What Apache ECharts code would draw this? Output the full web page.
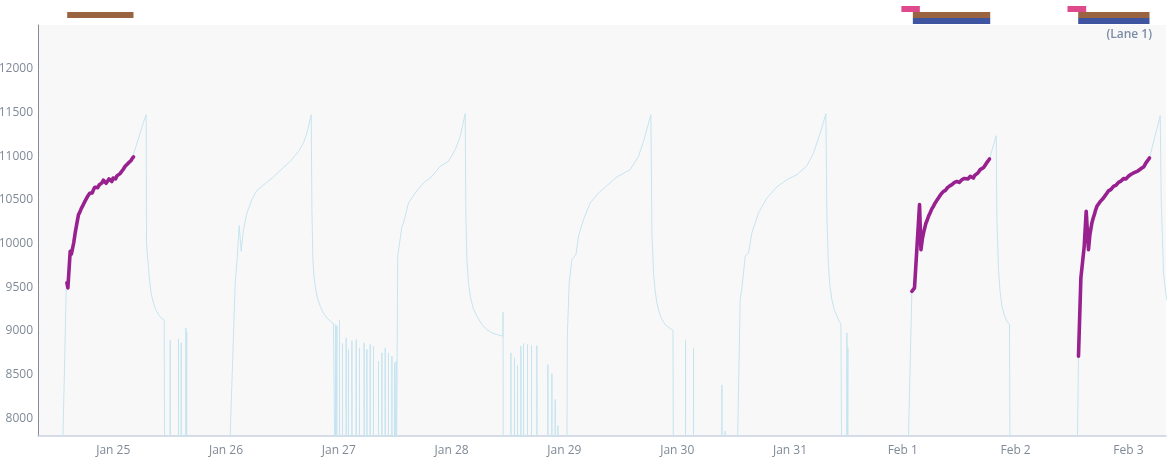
<!DOCTYPE html>
<html>
<head>
<meta charset="utf-8">
<script src="https://cdn.jsdelivr.net/npm/echarts@6/dist/echarts.min.js"></script>
<style>
html,body{margin:0;padding:0;background:#fff;}
#chart{width:1169px;height:460px;}
</style>
</head>
<body>
<div id="chart"></div>
<script>
// ---- data (time in hours relative to Jan 25 00:00) ----
const LOW = 7000; // readings below the visible range
const yTickValues = [8000, 8500, 9000, 9500, 10000, 10500, 11000, 11500, 12000];
const monthNames = ['Jan','Feb','Mar','Apr','May','Jun','Jul','Aug','Sep','Oct','Nov','Dec'];
const axisStartHour = -16;
const axisEndHour = 224;
const laneLabel = '(Lane 1)';
const laneNames = ['pink', 'brown', 'blue'];

// highlighted (purple) segments
const purple1 = [[-9.86,9551],[-9.64,9494],[-9.4,9700],[-9.15,9912],[-8.9,9880],[-8.66,9893],[-8.4,10010],[-8.09,10122],[-7.7,10240],[-7.38,10331],[-7.1,10360],[-6.8,10400],[-6.55,10425],[-6.32,10446],[-6.05,10480],[-5.8,10500],[-5.5,10535],[-5.26,10541],[-5.0,10575],[-4.7,10590],[-4.45,10580],[-4.19,10617],[-3.9,10645],[-3.6,10660],[-3.3,10640],[-3.0,10670],[-2.7,10690],[-2.4,10694],[-2.1,10725],[-1.8,10720],[-1.5,10690],[-1.2,10700],[-0.9,10740],[-0.64,10731],[-0.3,10710],[0.0,10750],[0.25,10760],[0.5,10740],[0.8,10775],[1.13,10789],[1.45,10800],[1.8,10820],[2.15,10850],[2.55,10884],[2.9,10900],[3.2,10920],[3.5,10935],[3.8,10950],[4.05,10975],[4.32,10991]];
const purple2 = [[169.93,9455],[170.21,9470],[170.49,9494],[171.56,10446],[171.86,9931],[172.15,10050],[172.41,10122],[172.9,10230],[173.2,10270],[173.47,10312],[173.8,10350],[174.2,10400],[174.5,10425],[174.89,10465],[175.3,10500],[175.8,10540],[176.2,10570],[176.66,10598],[177.1,10610],[177.5,10640],[178.0,10660],[178.45,10674],[179.0,10700],[179.5,10710],[180.0,10700],[180.57,10731],[181.0,10745],[181.4,10760],[181.9,10740],[182.34,10770],[182.7,10780],[183.0,10750],[183.3,10780],[183.6,10800],[184.0,10810],[184.47,10846],[184.8,10840],[185.2,10870],[185.5,10890],[185.8,10920],[186.1,10935],[186.45,10968]];
const purple3 = [[205.38,8712],[205.89,9608],[206.17,9590],[206.6,9969],[207.02,10369],[207.51,9931],[207.8,10100],[208.23,10236],[208.5,10290],[208.8,10340],[209.05,10390],[209.3,10427],[209.7,10440],[210.0,10480],[210.35,10500],[210.7,10522],[211.2,10560],[211.7,10600],[212.3,10620],[212.83,10655],[213.4,10670],[213.9,10700],[214.4,10715],[214.96,10743],[215.5,10740],[216.0,10770],[216.5,10790],[217.09,10808],[217.5,10800],[218.0,10830],[218.4,10850],[218.87,10865],[219.3,10880],[219.7,10920],[220.1,10940],[220.49,10979]];

// light blue trace pieces
const c1Rise = [[-16,LOW],[-10.8,LOW],[-10.70,7800],[-10.43,8408],[-10.0,9474]];
const c1Fall = [[5.74,11265],[6.4,11380],[7.02,11474],[7.09,10011],[7.25,9880],[7.51,9740],[7.65,9630],[7.87,9512],[8.15,9410],[8.57,9322],[9.0,9250],[9.64,9189],[10.2,9150],[10.85,9124],[10.96,LOW]];
const spikes1 = [[12.13,8895],[13.89,8911],[14.47,8865],[15.47,9037],[15.64,8990]];
const cycle2 = [[24.6,LOW],[24.89,7800],[25.96,9554],[26.32,9783],[26.81,10206],[27.23,9912],[27.72,10160],[28.45,10351],[29.51,10503],[30.57,10609],[32.34,10686],[34.11,10762],[35.89,10854],[37.66,10941],[39.43,11055],[40.49,11151],[41.21,11265],[42.13,11474],[42.28,10389],[42.49,9817],[42.7,9640],[42.98,9512],[43.4,9390],[44.04,9284],[44.7,9205],[45.47,9151],[46.2,9112],[46.87,9086],[47.2,9070],[47.23,LOW]];
const spikes2 = [[47.34,9074],[47.60,9060],[48.15,9124],[48.79,8857],[49.57,8922],[50.06,8789],[50.79,8891],[51.70,8903],[52.40,8808],[53.40,8865],[53.98,8789],[54.68,8846],[55.38,8827],[56.45,8655],[57.17,8751],[57.87,8808],[58.57,8751],[59.30,8712],[59.85,8636],[60.21,8655]];
const cycle3 = [[60.45,LOW],[60.53,9855],[60.75,9874],[61.43,10198],[61.77,10236],[62.49,10389],[62.83,10465],[64.26,10579],[66.02,10694],[67.81,10770],[69.57,10884],[71.34,10941],[72.77,11074],[73.83,11226],[74.89,11486],[75.04,10312],[75.26,9817],[75.55,9570],[75.96,9398],[76.6,9260],[77.38,9170],[78.4,9080],[79.51,9017],[80.8,8975],[82.0,8955],[82.91,8941],[82.95,9215],[83.0,LOW]];
const spikes3 = [[84.62,8751],[85.38,8694],[86.02,8606],[86.74,8827],[87.30,8857],[88.15,8846],[89.00,8834],[90.15,8834],[92.49,8617],[93.34,8511],[94.04,8217],[94.62,7920]];
const cycle4 = [[96.5,LOW],[96.62,8941],[97.02,9551],[97.60,9817],[98.45,9874],[99.00,10084],[100.06,10274],[101.49,10465],[103.26,10579],[105.04,10663],[107.17,10762],[110.0,10846],[111.77,10998],[112.83,11169],[114.40,11474],[114.62,10122],[114.96,9665],[115.3,9460],[115.68,9322],[116.2,9210],[116.74,9132],[117.6,9065],[118.66,9025],[119.10,9010],[119.21,LOW]];
const spikes4 = [[121.77,8891],[123.47,8800],[129.51,8385],[130.21,7855]];
const cycle5 = [[132.6,LOW],[133.40,9360],[133.77,9494],[134.04,9510],[134.47,9855],[135.17,9893],[135.89,10122],[137.30,10351],[139.09,10522],[141.21,10648],[143.34,10731],[145.47,10789],[147.60,10891],[149.00,11037],[150.43,11265],[151.64,11486],[151.85,10312],[152.19,9740],[152.5,9510],[152.91,9360],[153.4,9250],[153.98,9170],[154.4,9120],[154.83,9086],[155.04,LOW]];
const spikes5 = [[156.11,8979],[156.32,8810]];
const c6Rise = [[169.0,LOW],[169.21,7800]];
const c6Fall = [[187.87,11234],[188.02,10274],[188.36,9703],[188.7,9450],[189.09,9284],[189.6,9180],[190.15,9112],[190.70,9074],[190.85,LOW]];
const c7Rise = [[205.0,LOW],[205.17,7800]];
const c7Fall = [[222.77,11463],[222.98,10503],[223.47,9665],[224.04,9398],[224.5,9300]];

// lane bars: [laneIndex, startHour, endHour]
const laneBars = [[1,-9.79,4.32],[0,167.70,171.63],[1,170.14,186.60],[2,170.14,186.60],[0,203.04,207.02],[1,205.32,220.49],[2,205.32,220.49]];
const laneColors = ['#df4a8c', '#9b6441', '#3f55a0'];

// ---- build ----
const base = Date.UTC(2024, 0, 25);
const H = 3600000;
const toT = h => base + h * H;
const conv = arr => arr.map(p => [toT(p[0]), p[1]]);
const spike = list => {
  const out = [];
  list.forEach(([h, v]) => { out.push([h - 0.02, LOW], [h, v], [h + 0.02, LOW]); });
  return out;
};
const blue = [].concat(c1Rise, purple1, c1Fall, spike(spikes1), cycle2, spike(spikes2), cycle3, spike(spikes3),
  cycle4, spike(spikes4), cycle5, spike(spikes5), c6Rise, purple2, c6Fall, c7Rise, purple3, c7Fall);

const chart = echarts.init(document.getElementById('chart'), null, {renderer: 'canvas'});
const labelColor = '#7f8a96';
const font = 'Open Sans';
const purpleStyle = {color: '#98218f', width: 3.6, join: 'round', cap: 'round'};

const option = {
  useUTC: true,
  animation: false,
  backgroundColor: '#ffffff',
  grid: [
    {left: 38, top: 25, width: 1128, height: 411, show: true, backgroundColor: '#f8f8f8', borderWidth: 0,
     containLabel: false, outerBoundsMode: 'none'},
    {left: 38, top: 6, width: 1128, height: 18, containLabel: false, outerBoundsMode: 'none'}
  ],
  xAxis: [
    {
      type: 'time', gridIndex: 0, min: toT(axisStartHour), max: toT(axisEndHour),
      minInterval: 24 * H, maxInterval: 24 * H, splitNumber: 10,
      axisLine: {show: true, lineStyle: {color: '#c9d2e2', width: 1.5}},
      axisTick: {show: false}, splitLine: {show: false},
      axisLabel: {
        color: labelColor, fontSize: 12, fontFamily: font, margin: 9, hideOverlap: false,
        formatter: v => { const d = new Date(v); return monthNames[d.getUTCMonth()] + ' ' + d.getUTCDate(); }
      }
    },
    {type: 'time', gridIndex: 1, min: toT(axisStartHour), max: toT(axisEndHour), show: false}
  ],
  yAxis: [
    {
      type: 'value', gridIndex: 0, min: 7800, max: 12500,
      axisLine: {show: true, lineStyle: {color: '#858c95', width: 1}},
      axisTick: {show: false}, splitLine: {show: false},
      axisLabel: {color: labelColor, fontSize: 12, fontFamily: font, margin: 5, customValues: yTickValues,
                  formatter: v => String(v)}
    },
    {type: 'category', gridIndex: 1, data: laneNames, inverse: true, show: false}
  ],
  series: [
    {
      type: 'line', name: 'trace', xAxisIndex: 0, yAxisIndex: 0, data: conv(blue),
      showSymbol: false, symbol: 'none', sampling: null, clip: true,
      lineStyle: {color: '#c6e4f0', width: 1}, z: 2
    },
    {type: 'line', name: 'seg1', data: conv(purple1), showSymbol: false, symbol: 'none', lineStyle: purpleStyle, z: 3},
    {type: 'line', name: 'seg2', data: conv(purple2), showSymbol: false, symbol: 'none', lineStyle: purpleStyle, z: 3},
    {type: 'line', name: 'seg3', data: conv(purple3), showSymbol: false, symbol: 'none', lineStyle: purpleStyle, z: 3},
    {
      type: 'custom', xAxisIndex: 1, yAxisIndex: 1,
      data: laneBars.map(b => [toT(b[1]), toT(b[2]), b[0]]),
      encode: {x: [0, 1], y: 2},
      renderItem: (params, api) => {
        const lane = api.value(2);
        const s = api.coord([api.value(0), lane]);
        const e = api.coord([api.value(1), lane]);
        const h = api.size([0, 1])[1];
        return {type: 'rect', shape: {x: s[0], y: s[1] - h / 2, width: e[0] - s[0], height: h},
                style: {fill: laneColors[lane]}};
      }
    }
  ],
  graphic: [
    {type: 'text', right: 17, top: 29,
     style: {text: laneLabel, fill: '#7b8ca3', font: '600 12px "Open Sans"'}}
  ]
};
chart.setOption(option);
</script>
</body>
</html>
